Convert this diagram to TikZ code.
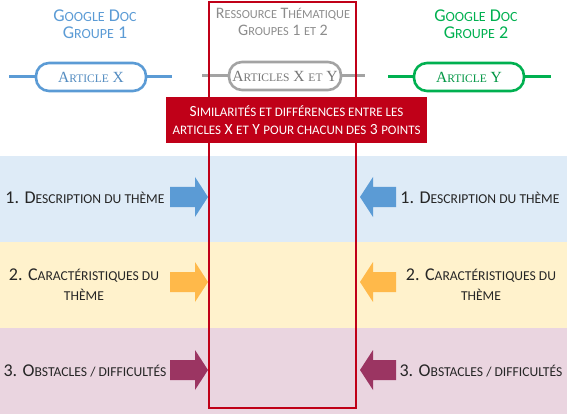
\documentclass[tikz,border=0pt]{standalone}
\usepackage{fontspec}
\setmainfont{Carlito}
\newfontfamily\pillfont{Liberation Serif}
\def\smsz{11.5pt}
\newcommand\sm[1]{{\fontsize{\smsz}{\smsz}\selectfont #1}}
\definecolor{cblue}{HTML}{5B9BD5}
\definecolor{cgreen}{HTML}{00B050}
\definecolor{cgrey}{HTML}{8C8C8C}
\definecolor{cred}{HTML}{C00018}
\definecolor{bandA}{HTML}{DEEBF7}
\definecolor{bandB}{HTML}{FFF2CC}
\definecolor{bandC}{HTML}{EAD5E0}
\definecolor{arA}{HTML}{5B9BD5}
\definecolor{arB}{HTML}{FFB94A}
\definecolor{arC}{HTML}{9B3562}
\definecolor{txt}{HTML}{262626}
\tikzset{
  hdr/.style={align=center, font=\fontsize{18}{17}\selectfont\def\smsz{14pt}},
  hdrmid/.style={align=center, font=\fontsize{16}{17}\selectfont\def\smsz{12.3pt}},
  pill/.style={draw, line width=2.6pt, fill=white, rounded corners=13pt, minimum width=110pt, minimum height=28pt, inner sep=0pt, font=\pillfont\fontsize{15.5}{17}\selectfont\def\smsz{11.5pt}},
  wire/.style={line width=3pt},
  lbl/.style={align=center, text=txt, font=\fontsize{18}{20}\selectfont\def\smsz{13.6pt}},
}
\begin{document}
\begin{tikzpicture}[x=1pt,y=-1pt]
\useasboundingbox (0,0) rectangle (567,414);
% bands
\fill[bandA] (0,156) rectangle (567,242);
\fill[bandB] (0,242) rectangle (567,328);
\fill[bandC] (0,328) rectangle (567,414);
% headers
\node[hdr, text=cblue] (h1) at (95,24) {G\sm{OOGLE} D\sm{OC}\\G\sm{ROUPE} 1};
\node[hdrmid, text=cgrey] (h2) at (283,22) {R\sm{ESSOURCE} T\sm{HÉMATIQUE}\\G\sm{ROUPES} 1 \sm{ET} 2};
\node[hdr, text=cgreen] (h3) at (476,24) {G\sm{OOGLE} D\sm{OC}\\G\sm{ROUPE} 2};
% wires and pills
\coordinate (w1a) at (9,77); \coordinate (w1b) at (172,77);
\coordinate (w2a) at (202,76); \coordinate (w2b) at (365,76);
\coordinate (w3a) at (388,77); \coordinate (w3b) at (551,77);
\draw[wire, cblue] (w1a) -- (w1b);
\draw[wire, cgrey!80] (w2a) -- (w2b);
\draw[wire, cgreen] (w3a) -- (w3b);
\node[pill, draw=cblue, text=cblue!90!black] (p1) at (91,77) {A\sm{RTICLE} X};
\node[pill, draw=cgrey!80, text=cgrey!85!black, minimum width=112pt] (p2) at (285,76) {A\sm{RTICLES} X \sm{ET} Y};
\node[pill, draw=cgreen, text=cgreen!85!black] (p3) at (469,77) {A\sm{RTICLE} Y};
% red frame
\draw[cred, line width=2pt] (209,2) rectangle (356,408);
% banner
\node[fill=cred, text=white, align=center, minimum width=261pt, minimum height=46pt, inner sep=0pt,
  font=\fontsize{15.5}{18}\selectfont\def\smsz{13pt}] (ban) at (296.5,120)
  {S\sm{IMILARITÉS ET DIFFÉRENCES ENTRE LES}\\\sm{ARTICLES} X \sm{ET} Y \sm{POUR CHACUN DES} 3 \sm{POINTS}};
% arrows (right-pointing on left, left-pointing on right)
\foreach \yc/\col in {197/arA, 282/arB, 370/arC}{
  \fill[\col] (170,\yc-10) -- (195,\yc-10) -- (195,\yc-20) -- (208,\yc) -- (195,\yc+20) -- (195,\yc+10) -- (170,\yc+10) -- cycle;
  \fill[\col] (396,\yc-10) -- (373,\yc-10) -- (373,\yc-20) -- (360,\yc) -- (373,\yc+20) -- (373,\yc+10) -- (396,\yc+10) -- cycle;
}
% labels
\node[lbl] (l1) at (85,198) {1. D\sm{ESCRIPTION DU THÈME}};
\node[lbl] (r1) at (480,198) {1. D\sm{ESCRIPTION DU THÈME}};
\node[lbl] (l2) at (84,285) {2. C\sm{ARACTÉRISTIQUES DU}\\\sm{THÈME}};
\node[lbl] (r2) at (481,285) {2. C\sm{ARACTÉRISTIQUES DU}\\\sm{THÈME}};
\node[lbl] (l3) at (85,371) {3. O\sm{BSTACLES / DIFFICULTÉS}};
\node[lbl] (r3) at (481,371) {3. O\sm{BSTACLES / DIFFICULTÉS}};
\end{tikzpicture}
\end{document}
